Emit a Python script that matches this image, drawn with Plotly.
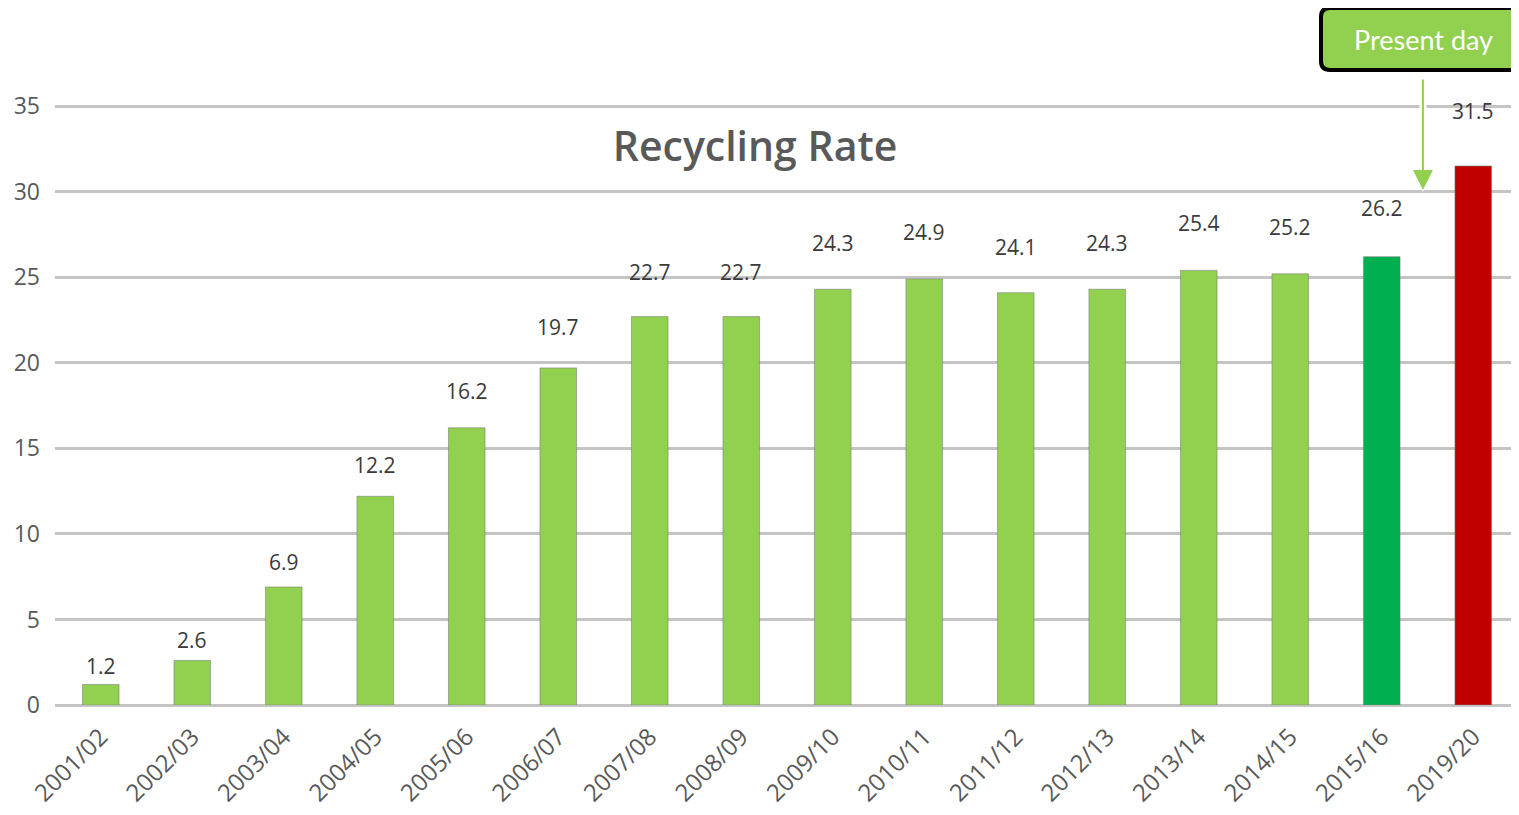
import plotly.graph_objects as go

categories = ["2001/02", "2002/03", "2003/04", "2004/05", "2005/06", "2006/07",
              "2007/08", "2008/09", "2009/10", "2010/11", "2011/12", "2012/13",
              "2013/14", "2014/15", "2015/16", "2019/20"]
rates = [1.2, 2.6, 6.9, 12.2, 16.2, 19.7, 22.7, 22.7, 24.3, 24.9, 24.1, 24.3,
         25.4, 25.2, 26.2, 31.5]
y_ticks = [0, 5, 10, 15, 20, 25, 30, 35]

LIGHT = "#92D050"
colors = [LIGHT] * 14 + ["#00B050", "#C00000"]

OFF = 8  # page body margin
Y_TOP = 35.3
PX_PER_UNIT = 599 / 35
W, H = 1519 - OFF, 815 - 2 * OFF
ML, MR = 55 - OFF, 0
MT = round(106 - OFF - (Y_TOP - 35) * PX_PER_UNIT)
MB = 110 - OFF
PW, PH = W - ML - MR, H - MT - MB

fig = go.Figure(go.Bar(
    x=categories, y=rates,
    marker=dict(color=colors, line=dict(color="rgba(120,120,120,0.55)", width=1)),
    hoverinfo="x+y",
))

# data labels above bars
for c, v in zip(categories, rates):
    fig.add_annotation(x=c, y=v * 1.07 + 1.0, text=f"{v}", showarrow=False,
                       yanchor="middle",
                       font=dict(family="Open Sans", size=21, color="#3A3A3A"))


def px_x(p):
    return (p - OFF - ML) / PW


def px_y(p):
    return (H - MB - (p - OFF)) / PH


# arrow (white halo + green arrow)
fig.add_annotation(x=14.45, y=30.0, xref="x", yref="y", text="", showarrow=True,
                   ax=0, ay=-112, arrowhead=2, arrowsize=1.0, arrowwidth=7,
                   arrowcolor="white")
fig.add_annotation(x=14.45, y=30.1, xref="x", yref="y", text="", showarrow=True,
                   ax=0, ay=-112, arrowhead=2, arrowsize=2.0, arrowwidth=2,
                   arrowcolor=LIGHT)

# rounded "Present day" box (paper coords)
x0, x1, y0, y1, r = 1321, 1535, 8, 70, 9
path = (f"M {px_x(x0 + r)},{px_y(y0)} L {px_x(x1 - r)},{px_y(y0)} "
        f"Q {px_x(x1)},{px_y(y0)} {px_x(x1)},{px_y(y0 + r)} "
        f"L {px_x(x1)},{px_y(y1 - r)} Q {px_x(x1)},{px_y(y1)} {px_x(x1 - r)},{px_y(y1)} "
        f"L {px_x(x0 + r)},{px_y(y1)} Q {px_x(x0)},{px_y(y1)} {px_x(x0)},{px_y(y1 - r)} "
        f"L {px_x(x0)},{px_y(y0 + r)} Q {px_x(x0)},{px_y(y0)} {px_x(x0 + r)},{px_y(y0)} Z")
fig.add_shape(type="path", path=path, xref="paper", yref="paper",
              fillcolor=LIGHT, line=dict(color="black", width=4), layer="above")
fig.add_annotation(x=px_x(1423), y=px_y(40), xref="paper", yref="paper",
                   xanchor="center", yanchor="middle",
                   text="Present day", showarrow=False,
                   font=dict(family="Lato", size=27, color="white"))

fig.update_layout(
    width=W, height=H,
    margin=dict(l=ML, r=MR, t=MT, b=MB),
    paper_bgcolor="white", plot_bgcolor="white",
    bargap=0.6, showlegend=False,
    title=dict(text="Recycling Rate", x=(755 - OFF) / W, xanchor="center",
               y=1 - (147 - OFF) / H, yanchor="middle", yref="container",
               font=dict(family="Open Sans", size=41, color="#595959", weight=600)),
    xaxis=dict(type="category", tickangle=-45, showgrid=False,
               showline=False, ticks="", ticklabelstandoff=12,
               tickfont=dict(family="Open Sans", size=24, color="#595959")),
    yaxis=dict(range=[0, Y_TOP], tickvals=y_ticks, showgrid=True,
               gridcolor="#C4C4C4", gridwidth=3, zeroline=True,
               zerolinecolor="#C4C4C4", zerolinewidth=3, ticks="",
               ticklabelstandoff=14,
               tickfont=dict(family="Open Sans", size=23, color="#595959")),
)

fig.write_html("out.html")
